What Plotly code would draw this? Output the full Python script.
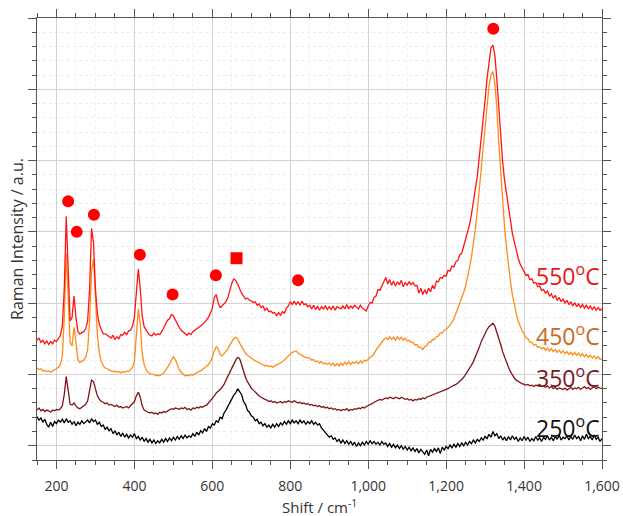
import plotly.graph_objects as go

# Raman shift grid (cm^-1), sampled every 5 cm^-1
shift = list(range(150, 1605, 5))

# 550 °C spectrum (rows start at 150, 200, ..., 1550, then 1600)
i550 = [
    1.48, 1.51, 1.45, 1.48, 1.43, 1.47, 1.42, 1.46, 1.43, 1.48,
    1.46, 1.50, 1.55, 1.68, 2.20, 3.22, 2.40, 1.75, 1.80, 2.10,
    1.80, 1.60, 1.57, 1.58, 1.60, 1.64, 1.75, 2.20, 3.05, 2.85,
    2.20, 1.85, 1.70, 1.63, 1.57, 1.57, 1.55, 1.54, 1.51, 1.55,
    1.49, 1.53, 1.50, 1.56, 1.55, 1.59, 1.56, 1.61, 1.62, 1.68,
    1.80, 2.15, 2.48, 2.20, 1.82, 1.67, 1.62, 1.58, 1.55, 1.54,
    1.58, 1.55, 1.57, 1.56, 1.60, 1.66, 1.72, 1.76, 1.78, 1.84,
    1.82, 1.76, 1.70, 1.66, 1.62, 1.60, 1.57, 1.55, 1.58, 1.56,
    1.60, 1.62, 1.63, 1.65, 1.68, 1.70, 1.73, 1.76, 1.80, 1.86,
    1.93, 2.08, 2.12, 2.00, 1.94, 1.96, 1.99, 2.02, 2.08, 2.18,
    2.28, 2.34, 2.32, 2.27, 2.20, 2.14, 2.10, 2.06, 2.07, 2.04,
    2.03, 2.01, 2.02, 1.97, 1.99, 1.94, 1.96, 1.90, 1.93, 1.88,
    1.89, 1.86, 1.87, 1.82, 1.87, 1.83, 1.88, 1.86, 1.93, 1.96,
    2.02, 1.98, 2.03, 1.98, 2.02, 1.97, 2.03, 1.98, 1.99, 1.95,
    1.97, 1.92, 1.97, 1.91, 1.96, 1.90, 1.95, 1.92, 1.96, 1.91,
    1.95, 1.91, 1.96, 1.90, 1.95, 1.94, 1.92, 1.96, 1.92, 1.98,
    1.92, 1.96, 1.93, 1.97, 1.94, 1.92, 1.97, 1.93, 1.91, 1.89,
    1.96, 2.01, 2.00, 2.08, 2.10, 2.19, 2.18, 2.24, 2.29, 2.36,
    2.27, 2.33, 2.25, 2.31, 2.24, 2.30, 2.26, 2.32, 2.23, 2.29,
    2.25, 2.30, 2.26, 2.29, 2.24, 2.25, 2.14, 2.21, 2.12, 2.19,
    2.13, 2.21, 2.16, 2.25, 2.20, 2.31, 2.30, 2.36, 2.35, 2.39,
    2.38, 2.46, 2.45, 2.52, 2.51, 2.58, 2.60, 2.68, 2.70, 2.82,
    2.90, 3.00, 3.10, 3.25, 3.42, 3.60, 3.78, 4.05, 4.30, 4.55,
    4.85, 5.15, 5.40, 5.58, 5.62, 5.48, 5.15, 4.72, 4.30, 3.98,
    3.72, 3.52, 3.32, 3.14, 2.98, 2.86, 2.74, 2.63, 2.55, 2.50,
    2.45, 2.39, 2.40, 2.33, 2.34, 2.28, 2.29, 2.23, 2.24, 2.18,
    2.19, 2.14, 2.17, 2.10, 2.13, 2.07, 2.11, 2.04, 2.08, 2.02,
    2.06, 2.00, 2.04, 1.98, 2.02, 1.96, 2.01, 1.95, 1.99, 1.94,
    1.98, 1.93, 1.97, 1.92, 1.96, 1.91, 1.95, 1.90, 1.94, 1.90,
    1.92,
]

# 450 °C spectrum
i450 = [
    1.09, 1.07, 1.08, 1.05, 1.06, 1.04, 1.05, 1.03, 1.05, 1.06,
    1.08, 1.10, 1.14, 1.25, 1.80, 2.70, 2.10, 1.45, 1.40, 1.66,
    1.45, 1.20, 1.17, 1.18, 1.20, 1.24, 1.35, 1.75, 2.45, 2.62,
    2.10, 1.55, 1.30, 1.18, 1.12, 1.09, 1.08, 1.06, 1.05, 1.04,
    1.05, 1.03, 1.04, 1.02, 1.04, 1.03, 1.05, 1.04, 1.07, 1.10,
    1.18, 1.55, 1.92, 1.70, 1.30, 1.14, 1.07, 1.03, 1.01, 1.00,
    1.00, 0.98, 0.99, 0.98, 1.00, 1.02, 1.06, 1.10, 1.14, 1.20,
    1.25, 1.21, 1.13, 1.07, 1.03, 1.00, 0.98, 0.99, 0.98, 1.00,
    0.99, 1.01, 1.02, 1.03, 1.05, 1.07, 1.09, 1.11, 1.14, 1.18,
    1.24, 1.33, 1.39, 1.36, 1.28, 1.26, 1.29, 1.32, 1.36, 1.42,
    1.46, 1.50, 1.52, 1.50, 1.44, 1.39, 1.34, 1.30, 1.27, 1.25,
    1.22, 1.21, 1.19, 1.18, 1.16, 1.15, 1.14, 1.12, 1.13, 1.11,
    1.12, 1.10, 1.12, 1.13, 1.14, 1.16, 1.18, 1.20, 1.23, 1.26,
    1.29, 1.31, 1.32, 1.33, 1.30, 1.28, 1.27, 1.25, 1.24, 1.23,
    1.23, 1.20, 1.21, 1.18, 1.19, 1.16, 1.18, 1.15, 1.16, 1.14,
    1.16, 1.13, 1.16, 1.12, 1.15, 1.12, 1.16, 1.13, 1.17, 1.14,
    1.18, 1.14, 1.17, 1.16, 1.18, 1.15, 1.19, 1.16, 1.20, 1.19,
    1.22, 1.24, 1.26, 1.29, 1.34, 1.38, 1.42, 1.46, 1.49, 1.51,
    1.49, 1.53, 1.49, 1.52, 1.48, 1.53, 1.49, 1.52, 1.48, 1.51,
    1.47, 1.48, 1.45, 1.45, 1.41, 1.42, 1.38, 1.38, 1.35, 1.39,
    1.40, 1.45, 1.45, 1.49, 1.49, 1.53, 1.54, 1.58, 1.58, 1.62,
    1.63, 1.66, 1.69, 1.73, 1.78, 1.85, 1.92, 2.00, 2.08, 2.15,
    2.24, 2.36, 2.50, 2.65, 2.82, 3.04, 3.30, 3.60, 3.92, 4.25,
    4.55, 4.82, 5.05, 5.20, 5.25, 5.08, 4.75, 4.25, 3.80, 3.40,
    3.06, 2.78, 2.52, 2.30, 2.12, 1.97, 1.85, 1.75, 1.67, 1.61,
    1.57, 1.51, 1.50, 1.45, 1.45, 1.41, 1.42, 1.38, 1.39, 1.36,
    1.38, 1.34, 1.37, 1.33, 1.36, 1.32, 1.35, 1.31, 1.34, 1.30,
    1.33, 1.29, 1.32, 1.28, 1.31, 1.27, 1.31, 1.27, 1.30, 1.26,
    1.29, 1.25, 1.28, 1.24, 1.27, 1.23, 1.26, 1.22, 1.25, 1.21,
    1.22,
]

# 350 °C spectrum
i350 = [
    0.50, 0.53, 0.49, 0.51, 0.48, 0.50, 0.49, 0.47, 0.50, 0.49,
    0.51, 0.50, 0.52, 0.56, 0.72, 0.97, 0.78, 0.58, 0.57, 0.60,
    0.56, 0.53, 0.52, 0.54, 0.55, 0.58, 0.63, 0.78, 0.92, 0.90,
    0.80, 0.70, 0.65, 0.62, 0.61, 0.59, 0.60, 0.57, 0.58, 0.56,
    0.55, 0.57, 0.54, 0.55, 0.53, 0.54, 0.55, 0.53, 0.56, 0.58,
    0.62, 0.70, 0.75, 0.68, 0.56, 0.50, 0.48, 0.47, 0.46, 0.47,
    0.45, 0.46, 0.44, 0.47, 0.46, 0.48, 0.47, 0.49, 0.50, 0.52,
    0.51, 0.53, 0.52, 0.51, 0.53, 0.52, 0.54, 0.51, 0.52, 0.50,
    0.53, 0.52, 0.54, 0.53, 0.55, 0.54, 0.56, 0.57, 0.60, 0.63,
    0.66, 0.70, 0.74, 0.76, 0.79, 0.82, 0.86, 0.92, 0.98, 1.04,
    1.08, 1.14, 1.20, 1.24, 1.22, 1.14, 1.04, 0.96, 0.90, 0.85,
    0.81, 0.78, 0.75, 0.72, 0.70, 0.68, 0.66, 0.65, 0.64, 0.62,
    0.63, 0.61, 0.62, 0.60, 0.61, 0.62, 0.60, 0.62, 0.61, 0.63,
    0.62, 0.61, 0.63, 0.62, 0.60, 0.61, 0.59, 0.60, 0.58, 0.59,
    0.57, 0.58, 0.56, 0.57, 0.55, 0.56, 0.54, 0.55, 0.53, 0.54,
    0.52, 0.53, 0.51, 0.52, 0.50, 0.51, 0.49, 0.51, 0.50, 0.52,
    0.49, 0.51, 0.50, 0.52, 0.51, 0.53, 0.52, 0.54, 0.53, 0.55,
    0.56, 0.58, 0.59, 0.61, 0.62, 0.63, 0.65, 0.64, 0.66, 0.67,
    0.66, 0.68, 0.67, 0.66, 0.68, 0.67, 0.66, 0.68, 0.67, 0.65,
    0.66, 0.64, 0.65, 0.63, 0.65, 0.64, 0.66, 0.65, 0.67, 0.66,
    0.68, 0.69, 0.70, 0.71, 0.72, 0.73, 0.74, 0.75, 0.77, 0.78,
    0.79, 0.80, 0.82, 0.83, 0.85, 0.86, 0.88, 0.90, 0.93, 0.96,
    1.00, 1.04, 1.08, 1.13, 1.18, 1.24, 1.31, 1.38, 1.46, 1.52,
    1.58, 1.63, 1.67, 1.70, 1.72, 1.68, 1.60, 1.50, 1.42, 1.32,
    1.24, 1.16, 1.10, 1.04, 0.99, 0.95, 0.92, 0.90, 0.88, 0.87,
    0.86, 0.85, 0.86, 0.84, 0.85, 0.83, 0.85, 0.84, 0.86, 0.83,
    0.84, 0.82, 0.84, 0.81, 0.83, 0.80, 0.82, 0.79, 0.81, 0.80,
    0.79, 0.81, 0.78, 0.80, 0.82, 0.79, 0.81, 0.80, 0.82, 0.79,
    0.81, 0.83, 0.80, 0.82, 0.79, 0.81, 0.83, 0.80, 0.82, 0.81,
    0.80,
]

# 250 °C spectrum
i250 = [
    0.41, 0.36, 0.39, 0.33, 0.37, 0.30, 0.26, 0.33, 0.27, 0.34,
    0.31, 0.36, 0.33, 0.37, 0.32, 0.38, 0.33, 0.35, 0.30, 0.34,
    0.28, 0.33, 0.30, 0.35, 0.31, 0.33, 0.36, 0.32, 0.38, 0.34,
    0.36, 0.30, 0.33, 0.27, 0.29, 0.23, 0.26, 0.21, 0.24, 0.17,
    0.21, 0.15, 0.19, 0.13, 0.18, 0.12, 0.16, 0.11, 0.15, 0.12,
    0.17, 0.10, 0.13, 0.08, 0.12, 0.06, 0.10, 0.05, 0.09, 0.04,
    0.08, 0.03, 0.07, 0.04, 0.09, 0.05, 0.10, 0.06, 0.11, 0.07,
    0.12, 0.08, 0.13, 0.09, 0.14, 0.10, 0.15, 0.11, 0.14, 0.12,
    0.17, 0.13, 0.19, 0.15, 0.21, 0.18, 0.24, 0.20, 0.27, 0.25,
    0.31, 0.29, 0.35, 0.33, 0.40, 0.38, 0.46, 0.50, 0.55, 0.62,
    0.66, 0.71, 0.74, 0.80, 0.76, 0.72, 0.62, 0.58, 0.50, 0.47,
    0.42, 0.40, 0.35, 0.37, 0.31, 0.33, 0.28, 0.31, 0.26, 0.29,
    0.25, 0.30, 0.26, 0.31, 0.27, 0.32, 0.29, 0.34, 0.30, 0.35,
    0.31, 0.36, 0.32, 0.35, 0.31, 0.36, 0.32, 0.35, 0.30, 0.34,
    0.31, 0.35, 0.30, 0.33, 0.29, 0.31, 0.25, 0.22, 0.18, 0.15,
    0.12, 0.14, 0.09, 0.11, 0.06, 0.09, 0.04, 0.08, 0.03, 0.07,
    0.02, 0.06, 0.01, 0.05, -0.01, 0.04, 0.00, 0.05, 0.01, 0.06,
    0.02, 0.07, 0.03, 0.06, 0.02, 0.05, 0.01, 0.06, 0.02, 0.04,
    -0.01, 0.03, -0.02, 0.02, -0.03, 0.01, -0.04, 0.00, -0.05, -0.01,
    -0.06, -0.02, -0.07, -0.03, -0.08, -0.04, -0.10, -0.05, -0.09, -0.12,
    -0.06, -0.14, -0.05, -0.09, -0.04, -0.08, -0.03, -0.11, -0.02, -0.06,
    -0.01, -0.04, 0.01, -0.03, 0.02, -0.02, 0.03, -0.01, 0.04, 0.00,
    0.05, 0.01, 0.06, 0.03, 0.08, 0.04, 0.09, 0.06, 0.11, 0.08,
    0.13, 0.10, 0.16, 0.12, 0.20, 0.14, 0.17, 0.10, 0.14, 0.08,
    0.12, 0.07, 0.13, 0.08, 0.14, 0.09, 0.12, 0.06, 0.11, 0.07,
    0.13, 0.08, 0.12, 0.06, 0.10, 0.07, 0.13, 0.08, 0.11, 0.06,
    0.12, 0.09, 0.14, 0.08, 0.12, 0.07, 0.13, 0.09, 0.15, 0.08,
    0.12, 0.10, 0.14, 0.08, 0.13, 0.09, 0.15, 0.10, 0.13, 0.07,
    0.14, 0.09, 0.16, 0.10, 0.13, 0.08, 0.15, 0.09, 0.12, 0.06,
    0.10,
]

for s in (i550, i450, i350, i250):
    assert len(s) == len(shift), len(s)

# Peak markers
circle_x = [230, 252, 296, 414, 498, 609, 820, 1321]
circle_y = [3.43, 3.00, 3.24, 2.68, 2.12, 2.39, 2.32, 5.85]
square_x = [662]
square_y = [2.63]

# Temperature labels
temp_labels = ["550", "450", "350", "250"]
label_y = [2.40, 1.55, 0.97, 0.26]

line_colors = ["#ff1414", "#ff8c1a", "#7f1418", "#000000"]
label_colors = ["#e8141c", "#cc6a1e", "#7a1a1e", "#111111"]
series = [i550, i450, i350, i250]

fig = go.Figure()
# draw from bottom to top so red is on top
for s, c in reversed(list(zip(series, line_colors))):
    fig.add_trace(go.Scatter(x=shift, y=s, mode="lines",
                             line=dict(color=c, width=1.3), showlegend=False))

fig.add_trace(go.Scatter(x=circle_x, y=circle_y, mode="markers",
                         marker=dict(symbol="circle", size=12, color="#ff0000"),
                         showlegend=False))
fig.add_trace(go.Scatter(x=square_x, y=square_y, mode="markers",
                         marker=dict(symbol="square", size=12, color="#ff0000"),
                         showlegend=False))

for t, yv, c in zip(temp_labels, label_y, label_colors):
    fig.add_annotation(x=1600, y=yv, xref="x", yref="y", xanchor="right",
                       yanchor="middle", showarrow=False,
                       text=f"{t}<sup>o</sup>C",
                       font=dict(family="Open Sans", size=23, color=c))

# x-axis title placed as an annotation below the tick labels
fig.add_annotation(x=0.5, y=-0.106, xref="paper", yref="paper",
                   xanchor="center", yanchor="middle", showarrow=False,
                   text="Shift / cm<sup>-1</sup>",
                   font=dict(family="Open Sans", size=15, color="#333333"))

axis_common = dict(
    showline=True, linecolor="#555555", linewidth=1, mirror="allticks",
    ticks="outside", ticklen=8, tickcolor="#555555",
    showgrid=True, gridcolor="#d2d2d2", gridwidth=1, zeroline=False,
)

fig.update_layout(
    width=623, height=516,
    margin=dict(l=37, r=21, t=18, b=56),
    paper_bgcolor="white", plot_bgcolor="white",
    font=dict(family="Open Sans", color="#333333"),
    xaxis=dict(
        range=[150, 1600], tick0=200, dtick=200, tickformat=",d",
        tickfont=dict(size=14, color="#333333"),
        ticklabelstandoff=5,
        minor=dict(dtick=50, tick0=0, ticks="outside", ticklen=4, tickcolor="#555555",
                   showgrid=True, gridcolor="#efefef", griddash="dot"),
        automargin=False,
        **axis_common,
    ),
    yaxis=dict(
        range=[-0.2, 6.0], tick0=0, dtick=1, showticklabels=False,
        title=dict(text="Raman Intensity / a.u.", font=dict(size=16, color="#333333"), standoff=0),
        minor=dict(dtick=0.2, tick0=0, ticks="outside", ticklen=4, tickcolor="#555555",
                   showgrid=True, gridcolor="#ececec", griddash="dot"),
        automargin=False,
        **axis_common,
    ),
)

fig.write_html("out.html")
